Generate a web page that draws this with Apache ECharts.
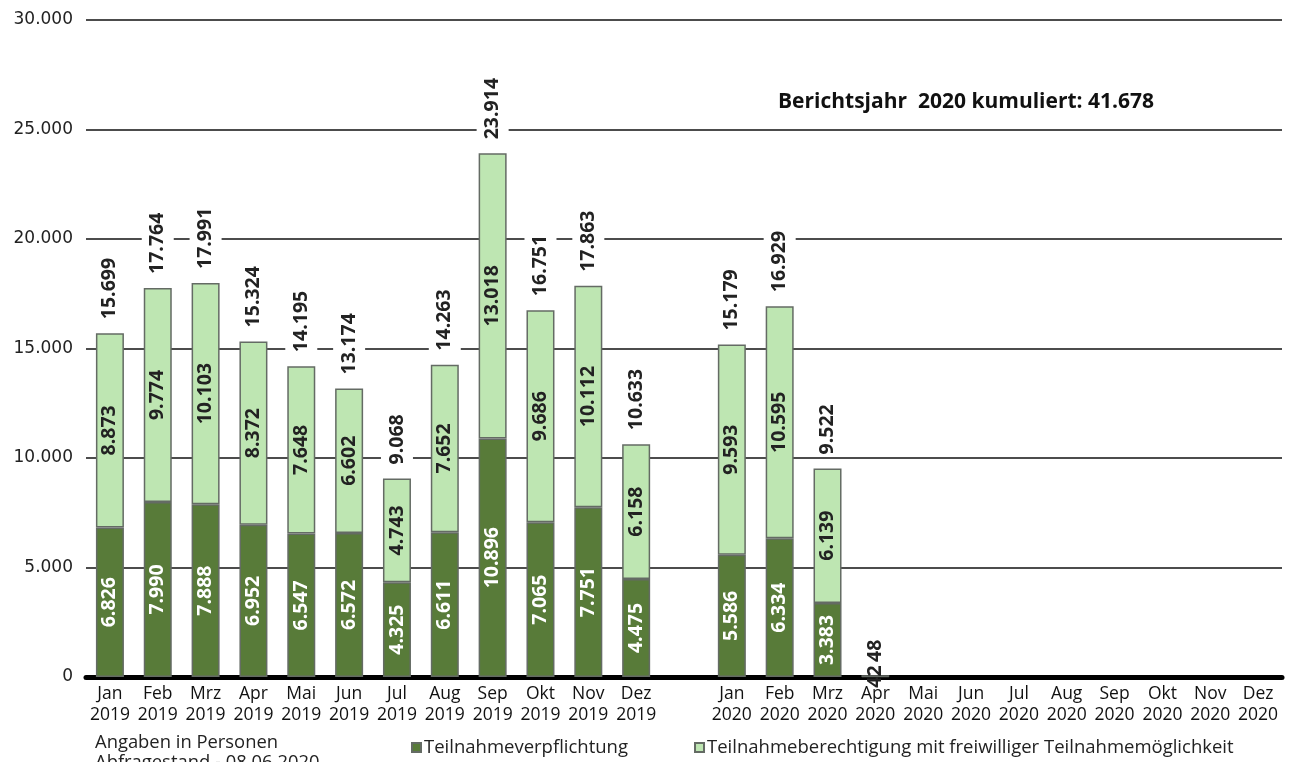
<!DOCTYPE html>
<html>
<head>
<meta charset="utf-8">
<script src="https://cdn.jsdelivr.net/npm/echarts@6/dist/echarts.min.js"></script>
<style>
html,body{margin:0;padding:0;background:#fff;}
#c{width:1292px;height:762px;}
</style>
</head>
<body>
<div id="c"></div>
<script>
var categories = ['Jan\n2019','Feb\n2019','Mrz\n2019','Apr\n2019','Mai\n2019','Jun\n2019','Jul\n2019','Aug\n2019','Sep\n2019','Okt\n2019','Nov\n2019','Dez\n2019','',
  'Jan\n2020','Feb\n2020','Mrz\n2020','Apr\n2020','Mai\n2020','Jun\n2020','Jul\n2020','Aug\n2020','Sep\n2020','Okt\n2020','Nov\n2020','Dez\n2020'];
var pflicht = [6826,7990,7888,6952,6547,6572,4325,6611,10896,7065,7751,4475,null,5586,6334,3383,42,null,null,null,null,null,null,null,null];
var berechtigt = [8873,9774,10103,8372,7648,6602,4743,7652,13018,9686,10112,6158,null,9593,10595,6139,6,null,null,null,null,null,null,null,null];
var totals = [15699,17764,17991,15324,14195,13174,9068,14263,23914,16751,17863,10633,null,15179,16929,9522,48,null,null,null,null,null,null,null,null];
var yTicks = [0,5000,10000,15000,20000,25000,30000];
var seriesNames = ['Teilnahmeverpflichtung','Teilnahmeberechtigung mit freiwilliger Teilnahmemöglichkeit'];
var annotation = 'Berichtsjahr  2020 kumuliert: 41.678';
var noteLines = ['Angaben in Personen','Abfragestand - 08.06.2020'];

function fmt(v){ return String(v).replace(/\B(?=(\d{3})+(?!\d))/g,'.'); }

var DARK = '#587b39', LIGHT = '#bee6b2', BORDER = '#646b64';
var LBL_FONT = '"Open Sans", "Noto Sans", sans-serif';

function darkItems(arr){
  return arr.map(function(v){
    if (v == null) return null;
    if (v < 1000) return {value: v, label: {color: '#222'}};
    return v;
  });
}
function lightItems(arr){
  return arr.map(function(v){
    if (v == null) return null;
    if (v < 1000) return {value: v, label: {show: false}};
    return v;
  });
}

var chart = echarts.init(document.getElementById('c'));
chart.setOption({
  animation: false,
  grid: {left: 86, right: 10, top: 20, bottom: 85, containLabel: false},
  legend: {
    left: 411, top: 738, padding: 0, itemWidth: 9, itemHeight: 9, itemGap: 66, icon: 'rect',
    data: seriesNames,
    textStyle: {fontFamily: LBL_FONT, fontSize: 18.5, color: '#222', padding: [0,0,0,-2]}
  },
  xAxis: {
    type: 'category', data: categories,
    axisTick: {show: false},
    axisLine: {lineStyle: {color: '#000', width: 5}},
    axisLabel: {interval: 0, fontFamily: LBL_FONT, fontSize: 17.5, color: '#111', lineHeight: 21, margin: 7}
  },
  yAxis: {
    type: 'value', min: yTicks[0], max: yTicks[yTicks.length-1], interval: yTicks[1]-yTicks[0],
    axisLine: {show: false}, axisTick: {show: false},
    splitLine: {lineStyle: {color: '#111', width: 1.5}},
    axisLabel: {formatter: fmt, fontFamily: '"DejaVu Sans", sans-serif', fontSize: 17, color: '#222', margin: 13}
  },
  graphic: [
    {type: 'text', left: 778, top: 92, style: {text: annotation, font: 'bold 21px "Open Sans", sans-serif', fill: '#111'}},
    {type: 'text', left: 95, top: 734, style: {text: noteLines[0], font: '18.4px "Open Sans", sans-serif', fill: '#222'}},
    {type: 'text', left: 95, top: 754, style: {text: noteLines[1], font: '18.4px "Open Sans", sans-serif', fill: '#222'}}
  ],
  series: [
    {
      name: seriesNames[0], type: 'bar', stack: 'a', barWidth: 28, barGap: '-100%',
      data: darkItems(pflicht),
      itemStyle: {color: DARK, borderColor: BORDER, borderWidth: 1.5},
      label: {show: true, position: 'inside', rotate: 90, formatter: function(p){return fmt(p.value);},
        color: '#fff', fontFamily: LBL_FONT, fontWeight: 'bold', fontSize: 19.5}
    },
    {
      name: seriesNames[1], type: 'bar', stack: 'a', barWidth: 28, barGap: '-100%',
      data: lightItems(berechtigt),
      itemStyle: {color: LIGHT, borderColor: BORDER, borderWidth: 1.5},
      label: {show: true, position: 'inside', rotate: 90, formatter: function(p){return fmt(p.value);},
        color: '#222', fontFamily: LBL_FONT, fontWeight: 'bold', fontSize: 19.5}
    },
    {
      name: 'Summe', type: 'bar', barWidth: 28, barGap: '-100%', data: totals,
      itemStyle: {color: 'rgba(0,0,0,0)'},
      emphasis: {disabled: true},
      label: {show: true, position: 'top', distance: 12, rotate: 90, align: 'left', verticalAlign: 'middle',
        formatter: function(p){return fmt(p.value);},
        color: '#222', fontFamily: LBL_FONT, fontWeight: 'bold', fontSize: 19.5,
        backgroundColor: '#fff', lineHeight: 22, padding: [5, 2, 5, 2]}
    }
  ]
});
</script>
</body>
</html>
